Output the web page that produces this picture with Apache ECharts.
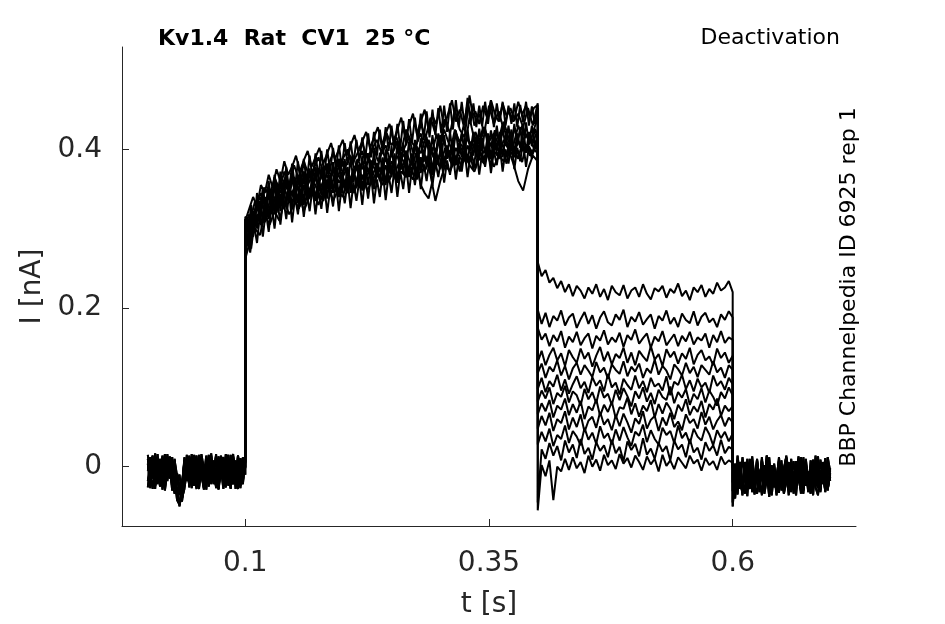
<!DOCTYPE html>
<html>
<head>
<meta charset="utf-8">
<script src="https://cdn.jsdelivr.net/npm/echarts@6/dist/echarts.min.js"></script>
<style>html,body{margin:0;padding:0;background:#fff}#c{width:945px;height:624px}</style>
</head>
<body>
<div id="c"></div>
<script>
// Tick labels
const xTicks = [0.1, 0.35, 0.6];
const yTicks = [0, 0.2, 0.4];

// Sampling of each protocol segment (s): start time and step
const baseStart = 0.0, baseStep = 0.0025;
const actStart = 0.1, actStepA = 0.005, actStepB = 0.004, actStepC = 0.003;
const deactStart = 0.4, deactStep = 0.004;
const tailStart = 0.6, tailStep = 0.0025;

// Current values in pA
const baseline0 = [-5,12,-15,6,-22,10,-8,15,-18,4,-26,8,-12,-35,-20,5,-10,14,-6,-24,9,-15,16,-3,-20,11,-9,4,-25,13,-7,-18,8,-12,15,-22,2,-14,10,-4,0];
const baseline1 = [10,-20,4,-28,12,-6,-24,16,-12,2,-30,-15,-42,-48,-25,8,-18,11,-27,3,14,-20,-5,-29,10,-14,17,-22,-2,-28,6,12,-19,-8,-27,9,-16,14,-24,5,-10];
const baseline2 = [-26,3,-12,17,-20,-4,14,-27,8,-15,12,-24,-8,-30,-44,-22,15,-26,2,12,-16,-28,6,-10,14,-25,0,-17,16,-29,-6,10,-21,4,-28,13,-2,-24,11,-18,6];
const baseline3 = [15,-10,-28,8,-2,-25,12,-18,16,-6,-22,10,-38,-20,-32,12,-4,-22,16,-12,-28,4,12,-24,-8,15,-20,8,-27,-4,14,-16,-26,10,-2,16,-20,-28,3,-12,14];
const baseline4 = [-18,6,14,-24,-10,9,-29,2,-14,13,-4,-28,-18,-10,-40,-28,-6,9,-20,15,-8,-26,10,-2,-29,6,14,-12,-24,11,-3,-28,5,15,-14,-22,8,-6,-27,12,-2];
const baseline5 = [4,-27,10,-8,16,-20,5,-30,-6,12,-18,-34,-26,-50,-30,-14,6,-24,12,-2,-20,15,-12,-27,4,10,-22,-6,14,-26,2,-10,16,-24,-5,10,-28,14,-8,-22,8];

// activation, sampled every actStepA
const act0 = [262,285,300,292,318,305,322,310,335,318,330,345,322,338,350,330,345,358,335,348,340,362,345,355,368,348,360,372,355,365,378,360,372,365,385,370,378,392,368,335,360,380,372,388,375,395,380,372,390,382,398,378,392,385,400,382,360,348,375,392,385];
const act1 = [300,270,318,330,308,335,325,345,330,352,338,325,355,342,360,345,335,362,350,370,355,345,372,360,350,378,365,382,370,360,385,375,390,378,370,395,382,375,398,385,378,402,388,380,405,392,385,408,395,388,410,398,390,412,400,392,410,398,405,395,408];
const act2 = [312,295,325,340,322,350,338,328,358,345,365,350,340,368,355,375,360,350,378,365,385,370,360,388,375,395,380,372,400,385,392,410,388,398,380,405,395,415,400,390,418,405,395,425,408,400,440,412,402,428,410,420,405,435,415,405,430,412,420,408,425];
const act3 = [315,310,335,320,352,340,365,348,372,355,380,362,385,368,375,390,372,380,395,378,388,400,382,395,408,390,400,412,395,420,405,415,398,425,410,402,432,415,440,420,408,438,420,450,425,415,468,430,445,420,455,432,448,425,450,435,445,428,452,430,458];
// activation, sampled every actStepB
const act4 = [270,298,290,318,305,330,312,338,320,342,325,350,332,345,328,355,338,350,335,358,340,362,345,355,340,366,350,360,345,370,352,365,375,355,370,360,380,362,374,358,382,366,378,385,362,390,372,386,368,395,375,388,400,378,392,372,398,384,394,376,402,385,396,380,405,388,400,382,408,390,398,384,406,392,400,395];
const act5 = [300,280,322,308,335,318,342,325,348,330,352,336,345,358,340,362,344,356,365,348,360,368,350,372,358,365,376,355,370,380,362,375,368,385,370,378,388,372,384,392,375,388,370,362,378,355,345,338,360,385,395,380,398,386,402,390,384,405,392,400,410,395,404,390,412,398,406,392,415,400,388,408,396,412,402,410];
const act6 = [305,318,300,332,345,328,350,340,358,345,362,348,368,352,360,372,355,366,378,360,372,382,365,376,388,370,382,392,375,386,398,380,392,402,385,395,405,388,398,410,392,404,415,396,408,420,400,412,398,418,405,425,410,400,420,408,430,412,402,422,410,428,414,404,424,412,432,416,406,426,414,430,418,408,425,440];
const act7 = [310,325,340,328,355,345,368,352,375,360,385,368,378,392,372,386,398,378,390,402,382,395,408,388,400,412,392,405,418,398,410,422,402,415,428,405,420,432,410,425,440,415,430,445,420,435,450,425,442,432,455,428,445,462,435,450,430,458,440,448,432,455,440,462,445,435,458,442,452,438,460,444,455,440,452,456];
// activation, sampled every actStepC
const act8 = [265,295,275,305,282,318,290,322,296,330,300,335,305,338,312,345,308,340,318,350,315,345,322,352,318,348,325,355,320,350,328,358,322,355,332,360,326,358,335,362,330,365,338,368,332,362,340,372,336,368,345,375,340,372,350,380,345,378,355,384,350,382,360,388,354,385,365,390,358,386,368,395,362,390,372,398,365,392,375,400,368,396,378,402,370,398,380,405,372,400,382,408,375,402,385,410,378,404,388,410,400];
const act9 = [280,312,290,322,300,335,308,340,315,345,318,352,322,355,328,360,325,358,332,365,330,362,338,368,335,365,342,372,338,368,345,375,340,372,350,378,345,376,352,382,348,380,355,386,350,383,360,390,355,388,365,395,360,392,370,398,365,395,374,402,370,400,378,405,372,402,382,408,376,405,385,412,380,408,390,415,384,410,392,418,386,414,395,420,388,416,398,422,390,418,400,425,394,420,402,428,396,422,404,426,415];
const act10 = [298,278,320,296,335,310,342,318,348,324,358,326,362,332,366,336,370,340,368,338,372,342,376,346,374,344,378,348,380,350,384,352,386,355,388,352,390,358,386,356,392,360,395,362,398,365,396,368,400,370,404,372,406,375,408,378,410,380,412,382,414,384,416,386,418,388,420,390,418,388,422,392,424,394,420,396,425,398,422,395,426,398,428,400,424,402,430,400,426,404,430,402,432,405,428,400,434,406,430,404,420];
const act11 = [312,295,330,305,345,318,352,325,360,332,368,338,372,345,378,348,382,352,385,355,388,358,392,362,395,365,398,368,400,372,402,375,405,378,408,380,410,382,412,385,415,388,420,390,422,392,425,395,428,398,430,400,432,402,436,405,438,408,440,410,445,412,448,415,450,418,452,420,455,422,458,425,462,428,460,430,465,432,458,428,455,430,460,432,462,428,458,435,460,430,455,432,458,428,456,434,460,430,454,432,452];

const deact0 = [258,240,248,232,238,225,234,220,230,215,228,222,212,226,218,230,214,224,210,228,220,216,229,212,222,226,214,230,218,211,225,221,228,213,224,219,231,215,222,210,226,220,229,214,224,218,232,222,226,234,220];
const deact1 = [198,180,194,176,190,184,197,178,188,193,175,186,195,180,191,174,188,196,182,178,192,185,198,176,189,183,195,179,186,192,174,190,184,197,180,188,176,193,185,181,196,178,189,194,182,187,176,192,185,196,188];
const deact2 = [175,160,168,152,166,158,171,150,164,157,170,153,162,168,149,165,159,172,154,163,157,169,151,166,160,173,155,162,168,150,164,158,171,153,160,167,152,165,158,170,154,163,159,168,150,166,157,171,156,163,160];
const deact3 = [132,146,128,141,150,134,143,127,147,138,131,149,136,144,126,140,151,133,145,129,142,137,150,131,144,128,146,139,133,152,135,142,127,148,138,145,130,143,136,150,129,141,147,134,139,128,149,137,144,131,140];
const deact4 = [118,130,112,126,120,134,115,127,110,124,131,116,128,121,113,132,119,125,111,129,122,117,133,114,126,120,130,112,124,118,135,116,127,121,110,129,123,115,131,118,126,113,128,122,116,133,119,125,112,128,122];
const deact5 = [98,112,94,108,101,116,96,110,92,104,114,99,107,93,113,102,109,95,117,100,106,91,111,103,97,115,99,108,94,112,101,105,96,114,90,107,103,116,98,109,95,111,100,106,93,115,102,108,97,112,104];
const deact6 = [82,96,86,100,79,93,88,102,81,95,90,77,98,85,94,80,101,87,92,78,97,84,99,89,76,95,86,100,82,93,79,97,88,84,101,80,94,87,98,78,92,85,99,81,96,88,77,94,86,100,90];
const deact7 = [66,80,70,84,62,77,72,86,65,79,68,83,60,76,71,85,64,78,69,82,61,75,73,87,66,80,63,77,70,84,62,79,67,81,73,60,78,70,85,65,76,69,83,62,79,72,86,64,77,70,76];
const deact8 = [48,64,52,68,45,60,55,70,47,62,50,66,44,58,63,49,69,53,60,46,65,51,67,56,43,61,54,70,48,59,64,45,62,52,68,50,57,46,66,55,60,48,69,53,63,47,58,65,51,62,56];
const deact9 = [28,44,32,48,26,40,35,52,30,45,38,27,49,34,43,29,51,36,42,28,47,33,50,37,26,44,39,53,31,46,35,28,49,40,45,30,52,36,43,29,48,38,33,50,41,27,46,36,44,32,42];
const deact10 = [-45,22,10,30,14,26,8,33,18,28,11,35,16,24,9,31,20,27,12,34,17,25,7,32,21,29,13,36,15,23,10,30,19,26,8,33,22,28,12,35,18,24,9,31,20,27,14,34,17,25,22];
const deact11 = [-55,2,-12,8,-42,0,-6,10,-4,12,-2,6,-8,14,0,9,-5,15,2,8,-3,16,4,11,-1,14,6,-4,13,3,10,-6,15,1,8,-3,12,5,-2,14,4,9,-5,11,2,7,-4,13,3,8,5];

const tail0 = [-50,-8,-28,6,-18,-34,10,-22,-4,-30,8,-15,-36,2,-20,12,-26,-8,-32,5,-14,-28,11,-20,-2,-34,7,-16,-30,12,-24,-6,-32,4,-18,-27,9,-12,-30,6,-14];
const tail1 = [-30,-40,4,-20,-32,-2,-26,10,-18,-35,-6,-24,12,-30,-10,-38,2,-22,-12,-33,8,-26,-4,-36,10,-18,-28,0,-34,-14,6,-30,-20,9,-26,-36,-4,-22,11,-28,-10];
const tail2 = [0,-22,14,-12,-30,6,-8,-26,13,-16,-2,-32,8,-20,14,-10,-28,4,-18,12,-24,-6,14,-30,-12,7,-22,13,-8,-28,10,-16,-2,-26,14,-12,-30,5,-20,12,-6];
const tail3 = [-45,-12,-35,2,-24,-8,-37,6,-14,-30,-2,-22,9,-34,-16,4,-28,-8,-36,0,-20,-30,7,-14,-32,-6,-24,10,-18,-34,2,-26,-10,-36,6,-16,-28,-2,-32,4,-18];
const tail4 = [8,-18,-4,-28,12,-10,-24,4,-32,-14,10,-20,-6,-30,14,-16,0,-26,-12,8,-30,-2,12,-22,-8,-28,5,-14,12,-24,-4,-32,8,-10,-20,13,-26,-8,4,-30,-2];
const tail5 = [-20,4,-30,-10,-36,0,-18,-28,6,-24,-34,-4,-16,-30,4,-22,-36,-8,-26,2,-14,-34,-20,6,-28,-12,-36,0,-22,-30,-6,-18,-34,2,-24,-14,-32,6,-20,-28,-8];

const baselines = [baseline0, baseline1, baseline2, baseline3, baseline4, baseline5];
const acts = [act0, act1, act2, act3, act4, act5, act6, act7, act8, act9, act10, act11];
const actSteps = [actStepA, actStepA, actStepA, actStepA, actStepB, actStepB, actStepB, actStepB, actStepC, actStepC, actStepC, actStepC];
const deacts = [deact0, deact1, deact2, deact3, deact4, deact5, deact6, deact7, deact8, deact9, deact10, deact11];
const tails = [tail0, tail1, tail2, tail3, tail4, tail5];

function seg(arr, t0, dt, out) {
  arr.forEach((v, k) => out.push([t0 + k * dt, v / 1000]));
}

const series = deacts.map((d, i) => {
  const pts = [];
  seg(baselines[i % baselines.length], baseStart, baseStep, pts);
  seg(acts[i], actStart, actSteps[i], pts);
  seg(d, deactStart, deactStep, pts);
  seg(tails[i % tails.length], tailStart, tailStep, pts);
  return {
    type: 'line', data: pts, showSymbol: false, symbol: 'none',
    lineStyle: { color: '#000', width: 2 }, silent: true, animation: false
  };
});

const axisColor = '#262626';
const font = 'DejaVu Sans';
const chart = echarts.init(document.getElementById('c'), null, { renderer: 'canvas' });
chart.setOption({
  animation: false,
  backgroundColor: '#fff',
  grid: { left: 122, right: 89, top: 47, bottom: 98, containLabel: false },
  xAxis: {
    type: 'value', min: -0.0265, max: 0.7265,
    name: 't [s]', nameLocation: 'middle', nameGap: 65,
    nameTextStyle: { fontSize: 28, color: axisColor, fontFamily: font },
    axisLine: { show: true, onZero: false, lineStyle: { color: axisColor, width: 1 } },
    axisTick: { show: true, inside: true, length: 7, customValues: xTicks, lineStyle: { color: axisColor } },
    axisLabel: { customValues: xTicks, fontSize: 28, color: axisColor, fontFamily: font, margin: 24,
      formatter: v => String(v) },
    splitLine: { show: false }
  },
  yAxis: {
    type: 'value', min: -0.0747, max: 0.529,
    name: 'I [nA]', nameLocation: 'middle', nameGap: 75,
    nameTextStyle: { fontSize: 28, color: axisColor, fontFamily: font },
    axisLine: { show: true, onZero: false, lineStyle: { color: axisColor, width: 1 } },
    axisTick: { show: true, inside: true, length: 7, customValues: yTicks, lineStyle: { color: axisColor } },
    axisLabel: { customValues: yTicks, fontSize: 28, color: axisColor, fontFamily: font, margin: 20,
      formatter: v => String(v) },
    splitLine: { show: false }
  },
  graphic: [
    { type: 'text', left: 158, top: 28, style: { text: 'Kv1.4  Rat  CV1  25 °C', fontSize: 22, fontWeight: 'bold', fontFamily: font, fill: '#000' } },
    { type: 'text', right: 105, top: 27, style: { text: 'Deactivation', fontSize: 22, fontFamily: font, fill: '#000' } },
    { type: 'text', x: 849, y: 287, rotation: Math.PI / 2,
      style: { text: 'BBP Channelpedia ID 6925 rep 1', fontSize: 22, fontFamily: font, fill: '#000', align: 'center', verticalAlign: 'middle' } }
  ],
  series: series
});
</script>
</body>
</html>
